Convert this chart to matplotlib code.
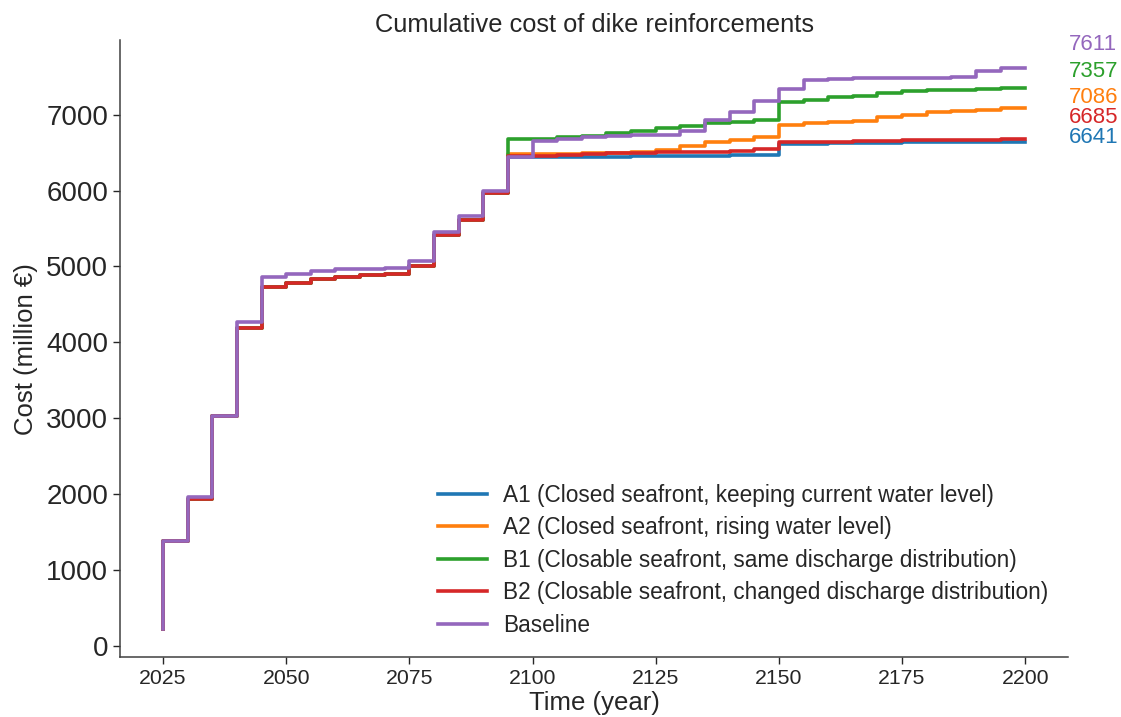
import matplotlib
matplotlib.use("Agg")
import matplotlib.pyplot as plt
import numpy as np

years = list(range(2025, 2201, 5))

# common early part (up to 2095)
b2_early = [220, 1380, 1935, 3030, 4185, 4735, 4780, 4833, 4865, 4890, 4905,
            5010, 5415, 5615, 5965]

a1 = b2_early + [6445, 6445, 6445, 6447, 6448, 6458, 6460, 6460, 6462, 6472,
                 6475, 6610, 6612, 6625, 6626, 6628, 6638, 6639, 6640, 6641, 6641]
a2 = b2_early + [6482, 6482, 6482, 6490, 6498, 6505, 6537, 6585, 6637, 6668,
                 6702, 6862, 6885, 6908, 6922, 6975, 6997, 7032, 7050, 7064, 7086]
b1 = b2_early + [6678, 6686, 6702, 6722, 6762, 6790, 6822, 6845, 6889, 6908,
                 6930, 7162, 7192, 7230, 7252, 7288, 7308, 7326, 7328, 7340, 7357]
b2 = b2_early + [6460, 6460, 6470, 6487, 6492, 6495, 6503, 6505, 6510, 6527,
                 6543, 6638, 6638, 6645, 6655, 6658, 6668, 6668, 6668, 6668, 6685]
baseline = [220, 1380, 1960, 3030, 4265, 4865, 4895, 4945, 4960, 4965, 4980,
            5075, 5460, 5670, 5990, 6440, 6655, 6680, 6712, 6722, 6733, 6738,
            6792, 6933, 7042, 7180, 7345, 7452, 7470, 7488, 7488, 7488, 7488,
            7502, 7580, 7611]

labels = ["A1 (Closed seafront, keeping current water level)",
          "A2 (Closed seafront, rising water level)",
          "B1 (Closable seafront, same discharge distribution)",
          "B2 (Closable seafront, changed discharge distribution)",
          "Baseline"]
series = [a1, a2, b1, b2, baseline]
colors = ["#1f77b4", "#ff7f0e", "#2ca02c", "#d62728", "#9467bd"]
final_labels = [6641, 7086, 7357, 6685, 7611]
label_y = [6700, 7222, 7565, 6965, 7920]  # label placement (adjusted to avoid overlap)

plt.rcParams['font.family'] = ['Liberation Sans', 'DejaVu Sans']
text_color = "#262626"

fig = plt.figure(figsize=(11.21, 7.17), dpi=100)
ax = fig.add_axes([0.107, 0.0837, 0.846, 0.86])

for s, lab, c in zip(series, labels, colors):
    ax.step(years, s, where='pre', color=c, lw=2.6, label=lab)

xmin, xmax = ax.get_xlim()
for v, yy, c in zip(final_labels, label_y, colors):
    ax.text(xmax + 0.1, yy, str(v), color=c, fontsize=16, ha='left', va='center',
            clip_on=False)

ax.set_title("Cumulative cost of dike reinforcements", fontsize=18.3, color=text_color)
ax.set_xlabel("Time (year)", fontsize=18.5, color=text_color, labelpad=2)
ax.set_ylabel("Cost (million €)", fontsize=18.5, color=text_color, labelpad=6)
ax.set_xticks([2025, 2050, 2075, 2100, 2125, 2150, 2175, 2200])
ax.set_yticks([0, 1000, 2000, 3000, 4000, 5000, 6000, 7000])
ax.tick_params(axis='x', labelsize=15.3, colors=text_color, length=5, width=1)
ax.tick_params(axis='y', labelsize=20, colors=text_color, length=5, width=1)

for sp in ['top', 'right']:
    ax.spines[sp].set_visible(False)
for sp in ['left', 'bottom']:
    ax.spines[sp].set_color("#404040")
    ax.spines[sp].set_linewidth(1.1)

leg = ax.legend(loc='lower right', frameon=False, fontsize=16.3, handlelength=2.15,
                handletextpad=0.7, labelspacing=0.42, borderaxespad=0.5,
                bbox_to_anchor=(1.0, 0.0))
for t in leg.get_texts():
    t.set_color(text_color)

fig.savefig("out.png", dpi=100)
